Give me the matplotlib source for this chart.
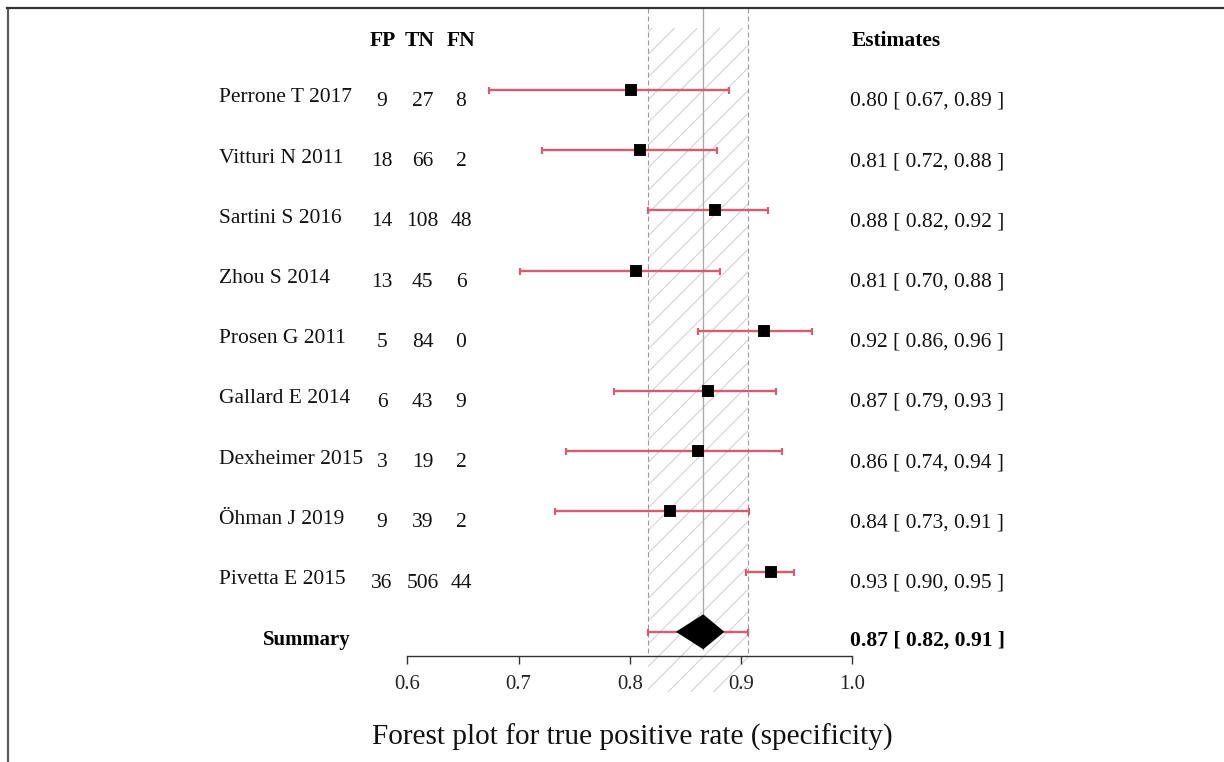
import matplotlib
matplotlib.use("Agg")
import matplotlib.pyplot as plt
from matplotlib.patches import Rectangle
from matplotlib.lines import Line2D
import matplotlib.transforms as mtransforms

# ---- data ----
studies = ["Perrone T 2017", "Vitturi N 2011", "Sartini S 2016", "Zhou S 2014",
           "Prosen G 2011", "Gallard E 2014", "Dexheimer 2015", "Öhman J 2019",
           "Pivetta E 2015"]
fp = [9, 18, 14, 13, 5, 6, 3, 9, 36]
tn = [27, 66, 108, 45, 84, 43, 19, 39, 506]
fn = [8, 2, 48, 6, 0, 9, 2, 2, 44]
est = [0.801, 0.809, 0.877, 0.806, 0.921, 0.870, 0.861, 0.836, 0.927]
ci_lo = [0.673, 0.721, 0.816, 0.701, 0.861, 0.786, 0.743, 0.733, 0.904]
ci_hi = [0.889, 0.878, 0.924, 0.881, 0.964, 0.931, 0.937, 0.907, 0.948]

summary_est = 0.866
summary_lo = 0.816
summary_hi = 0.906
diamond_lo = 0.8415
diamond_hi = 0.885

ticks = [0.6, 0.7, 0.8, 0.9, 1.0]
tick_labels = ["0.6", "0.7", "0.8", "0.9", "1.0"]

# ---- layout helpers (reference pixel geometry) ----
W, H, DPI = 1224, 762, 136
PT = 72.0 / DPI          # points per pixel


def py(p):
    """pixel row of the reference -> row units used on the y axis"""
    return (p - 90) / 60.2


def fx(p):
    """pixel column -> figure fraction"""
    return p / W


plt.rcParams['font.family'] = ['Liberation Serif', 'DejaVu Serif']
plt.rcParams['hatch.linewidth'] = 1.1 * PT
plt.rcParams['lines.scale_dashes'] = False

fig = plt.figure(figsize=(W / DPI, H / DPI), dpi=DPI)
ax = fig.add_axes([0, 0, 1, 1])
ax.set_xlim(0.6 - 407.3 / 1112.5, 0.6 + (W - 407.3) / 1112.5)
ax.set_ylim(py(H), py(0))
ax.patch.set_alpha(0)

red = '#D45D73'
txt_size = 11.4
rows = list(range(len(studies)))
sum_row = len(studies)

# hatched band for the summary confidence interval
ax.add_patch(Rectangle((summary_lo, py(28)), summary_hi - summary_lo, py(692) - py(28),
                       facecolor='none', edgecolor='#d2d2d2', linewidth=0,
                       hatch='//', zorder=0))
ax.vlines([summary_lo, summary_hi], py(8), py(653), colors='#9a9a9a',
          linewidth=1.1 * PT, linestyles=(0, (5 * PT, 3 * PT)), zorder=1)
ax.vlines(summary_est, py(8), py(650), colors='#a8a8a8', linewidth=1.3 * PT, zorder=1)

# study rows
xerr = [[e - l for e, l in zip(est, ci_lo)], [h - e for e, h in zip(est, ci_hi)]]
ax.errorbar(est, rows, xerr=xerr, fmt='none', ecolor=red, elinewidth=2.4 * PT,
            capsize=3.5 * PT, capthick=2.2 * PT, zorder=2)
ax.plot(est, rows, 's', color='black', markersize=10.8 * PT, zorder=3)

# summary row
ax.errorbar([summary_est], [sum_row],
            xerr=[[summary_est - summary_lo], [summary_hi - summary_est]],
            fmt='none', ecolor=red, elinewidth=2.4 * PT, capsize=3.5 * PT,
            capthick=2.2 * PT, zorder=2)
half_h = 17.5 / 60.2
ax.fill([diamond_lo, summary_est, diamond_hi, summary_est],
        [sum_row, sum_row - half_h, sum_row, sum_row + half_h],
        color='black', zorder=4, linewidth=0)

# x axis
for side in ['left', 'right', 'top']:
    ax.spines[side].set_visible(False)
ax.spines['bottom'].set_position(('data', py(655.7)))
ax.spines['bottom'].set_bounds(ticks[0], ticks[-1])
ax.spines['bottom'].set_color('#333333')
ax.spines['bottom'].set_linewidth(1.4 * PT)
ax.set_xticks(ticks)
ax.set_xticklabels(tick_labels)
ax.set_yticks([])
ax.tick_params(axis='x', direction='out', length=7.5 * PT, width=1.4 * PT,
               color='#333333', labelcolor='#222222', labelsize=11, pad=12 * PT)

# text columns
tr = mtransforms.blended_transform_factory(fig.transFigure, ax.transData)
off = 1 / 60.2
for r, name in zip(rows, studies):
    ax.text(fx(219), r + 12.5 * off, name, transform=tr, ha='left', va='baseline',
            fontsize=txt_size, color='#111111')
    for xp, val in zip([382, 422.5, 461], [fp[r], tn[r], fn[r]]):
        ax.text(fx(xp), r + 16 * off, str(val), transform=tr, ha='center',
                va='baseline', fontsize=txt_size, color='#111111')
    ax.text(fx(850), r + 16 * off,
            f"{est[r]:.2f} [ {ci_lo[r]:.2f}, {ci_hi[r]:.2f} ]",
            transform=tr, ha='left', va='baseline', fontsize=txt_size, color='#111111')

for xp, h in zip([383, 420, 461], ["FP", "TN", "FN"]):
    ax.text(fx(xp), py(46), h, transform=tr, ha='center', va='baseline',
            fontsize=txt_size, fontweight='bold')
ax.text(fx(852), py(46), "Estimates", transform=tr, ha='left', va='baseline',
        fontsize=txt_size, fontweight='bold')

ax.text(fx(351), py(645), "Summary", transform=tr, ha='right', va='baseline',
        fontsize=11, fontweight='bold')
ax.text(fx(850), py(646),
        f"{summary_est:.2f} [ {summary_lo:.2f}, {summary_hi:.2f} ]",
        transform=tr, ha='left', va='baseline', fontsize=txt_size, fontweight='bold')

ax.text(fx(632.5), py(745), "Forest plot for true positive rate (specificity)",
        transform=tr, ha='center', va='baseline', fontsize=15.5, color='#111111')

# frame lines at left and top of the picture
fig.add_artist(Line2D([fx(7.5), fx(7.5)], [0, 1 - 7.5 / H], color='#5a5a5a',
                      linewidth=2.2 * PT))
fig.add_artist(Line2D([fx(6.5), 1], [1 - 7.5 / H, 1 - 7.5 / H], color='#333333',
                      linewidth=2.2 * PT))

fig.savefig("out.png", dpi=DPI)
